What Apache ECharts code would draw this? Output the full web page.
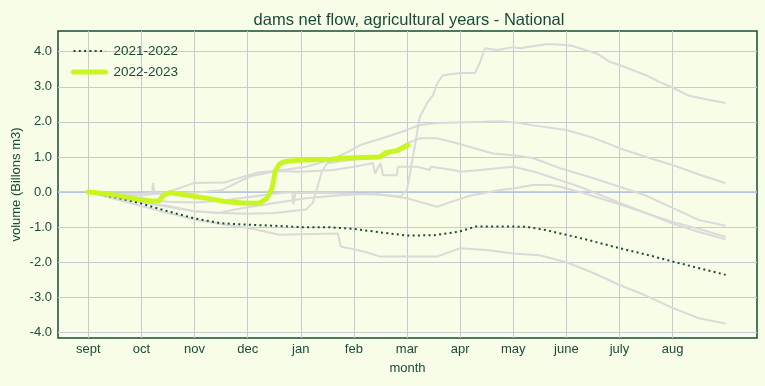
<!DOCTYPE html>
<html>
<head>
<meta charset="utf-8">
<script src="https://cdn.jsdelivr.net/npm/echarts@6/dist/echarts.min.js"></script>
<style>
html,body{margin:0;padding:0;background:#f7fde6;}
#chart{width:765px;height:386px;}
</style>
</head>
<body>
<div id="chart"></div>
<script>
// x unit: months since start of September (tick k = month k)
const monthLabels = ['sept','oct','nov','dec','jan','feb','mar','apr','may','june','july','aug'];
const monthTicks = [0,1,2,3,4,5,6,7,8,9,10,11];
const yTicks = [-4,-3,-2,-1,0,1,2,3,4];

const year2122 = [[0,0],[0.5,-0.15],[1,-0.33],[1.5,-0.55],[2,-0.75],[2.5,-0.89],[3,-0.93],[3.5,-0.96],[4,-1.0],[4.5,-1.0],[5,-1.05],[5.5,-1.15],[6,-1.24],[6.5,-1.23],[6.8,-1.17],[7,-1.12],[7.3,-0.98],[7.75,-0.98],[8.25,-0.99],[8.6,-1.08],[9,-1.22],[9.5,-1.4],[10,-1.6],[10.5,-1.78],[11,-1.98],[11.5,-2.17],[12,-2.36]];

const year2223 = [[0,0],[0.41,-0.06],[0.84,-0.18],[1.22,-0.26],[1.33,-0.25],[1.41,-0.1],[1.54,-0.02],[1.86,-0.09],[2.24,-0.18],[2.61,-0.28],[2.99,-0.32],[3.23,-0.31],[3.36,-0.18],[3.46,0.1],[3.52,0.6],[3.6,0.8],[3.7,0.87],[3.99,0.91],[4.55,0.93],[4.74,0.96],[5.49,1.0],[5.6,1.12],[5.81,1.18],[6.02,1.34]];

const otherA = [[0,0],[0.5,-0.1],[1,-0.2],[1.5,-0.28],[2,-0.3],[2.5,-0.25],[3,-0.15],[3.5,-0.05],[3.84,0.0],[3.86,-0.35],[3.9,-0.02],[4.5,-0.03],[5,-0.05],[5.5,-0.08],[5.87,-0.13],[6,0.06],[6.11,0.99],[6.24,2.14],[6.38,2.54],[6.49,2.76],[6.57,3.1],[6.68,3.33],[7,3.39],[7.28,3.39],[7.37,3.68],[7.47,4.1],[7.7,4.05],[8,4.13],[8.13,4.1],[8.64,4.22],[9,4.19],[9.12,4.16],[9.57,3.95],[9.82,3.71],[10,3.62],[10.5,3.33],[10.75,3.14],[11,2.98],[11.28,2.76],[11.65,2.64],[12,2.54]];
const otherB = [[0,0],[0.5,-0.08],[1,-0.1],[1.5,0.0],[2,0.26],[2.57,0.27],[2.7,0.34],[2.95,0.45],[3.2,0.56],[3.67,0.63],[4.1,0.72],[4.55,0.91],[4.9,1.15],[5.12,1.34],[5.55,1.54],[6,1.77],[6.24,1.91],[6.57,1.97],[7.43,2.0],[7.75,2.02],[8.13,1.97],[8.37,1.9],[9,1.77],[9.5,1.55],[10,1.25],[10.5,1.0],[11,0.77],[11.5,0.5],[12,0.25]];
const otherC = [[0,0],[0.5,-0.15],[1,-0.3],[1.5,-0.42],[2,-0.55],[2.5,-0.6],[3,-0.62],[3.5,-0.6],[4.1,-0.5],[4.23,-0.3],[4.4,0.6],[4.5,0.82],[4.93,0.91],[5.55,1.0],[5.8,1.2],[6,1.39],[6.24,1.53],[6.57,1.53],[6.94,1.39],[7.62,1.1],[8,1.05],[8.37,0.97],[8.88,0.68],[9.5,0.4],[10,0.15],[10.5,-0.1],[11,-0.45],[11.5,-0.8],[12,-0.96]];
const otherD = [[0,0],[0.5,-0.05],[1,-0.05],[1.2,-0.02],[1.22,0.26],[1.25,-0.05],[2,-0.02],[2.5,0.05],[3.05,0.45],[3.55,0.6],[3.99,0.58],[4.61,0.63],[5,0.72],[5.36,0.82],[5.4,0.53],[5.5,0.82],[5.55,0.48],[5.81,0.48],[5.83,0.72],[6.19,0.72],[6.43,0.63],[6.45,0.72],[6.87,0.63],[7,0.58],[7.37,0.63],[8,0.72],[8.4,0.58],[8.88,0.34],[9.25,0.15],[10,-0.3],[11,-0.9],[11.5,-1.14],[12,-1.35]];
const otherE = [[0,0],[0.5,-0.12],[1,-0.28],[1.5,-0.4],[2,-0.55],[2.45,-0.6],[2.86,-0.47],[3.48,-0.32],[4.1,-0.18],[4.74,-0.09],[5.36,-0.04],[6,-0.18],[6.57,-0.42],[6.83,-0.28],[7.2,-0.1],[7.75,0.06],[8,0.1],[8.37,0.2],[8.7,0.2],[8.88,0.15],[9.25,0.0],[10,-0.35],[11,-0.85],[11.5,-1.05],[12,-1.28]];
const otherF = [[0,0],[0.5,-0.2],[1,-0.4],[1.5,-0.6],[2,-0.78],[2.5,-0.92],[3,-1.02],[3.6,-1.22],[4,-1.2],[4.7,-1.18],[4.75,-1.55],[5.2,-1.7],[5.5,-1.84],[6,-1.84],[6.57,-1.84],[7,-1.6],[7.5,-1.65],[8,-1.75],[8.5,-1.8],[9,-2.0],[9.5,-2.3],[10,-2.65],[10.5,-2.95],[11,-3.3],[11.5,-3.6],[12,-3.75]];
const otherYears = [otherA, otherB, otherC, otherD, otherE, otherF];

const dark = '#1b4a3c';
const lime = '#c9f522';
const font = 'Liberation Sans, Arial, sans-serif';

const chart = echarts.init(document.getElementById('chart'), null, {renderer:'canvas'});

const greySeries = otherYears.map((d, i) => ({
  name: 'other' + i,
  type: 'line',
  data: d,
  symbol: 'none',
  silent: true,
  lineStyle: {color: '#dadada', width: 2},
  z: 2
}));

chart.setOption({
  animation: false,
  backgroundColor: '#f7fde6',
  title: {
    text: 'dams net flow, agricultural years - National',
    left: 404, top: 7, textAlign: 'center',
    textStyle: {fontFamily: font, fontSize: 16.5, fontWeight: 'normal', color: dark}
  },
  legend: {
    data: [
      {name: '2021-2022', lineStyle: {color: dark, width: 2, type: [2, 3.3]}},
      {name: '2022-2023', lineStyle: {color: lime, width: 5, cap: 'round'}}
    ],
    orient: 'vertical',
    left: 66, top: 39,
    itemWidth: 32, itemHeight: 14, itemGap: 7,
    itemStyle: {color: 'rgba(0,0,0,0)', borderWidth: 0, opacity: 0},
    textStyle: {fontFamily: font, fontSize: 13.5, color: dark, padding: [0,0,0,3]}
  },
  grid: {
    left: 58, right: 8, top: 31, bottom: 48,
    containLabel: false, outerBoundsMode: 'none',
    show: true, borderColor: dark, borderWidth: 1.5, backgroundColor: '#f7fde6'
  },
  xAxis: {
    type: 'value', min: -0.571, max: 12.59,
    name: 'month', nameLocation: 'middle', nameGap: 24, nameMoveOverlap: false,
    nameTextStyle: {fontFamily: font, fontSize: 13, color: dark},
    axisLine: {show: false},
    axisTick: {show: false, customValues: monthTicks},
    axisLabel: {customValues: monthTicks, margin: 5, fontFamily: font, fontSize: 13, color: dark,
      formatter: v => monthLabels[Math.round(v)] || ''},
    splitLine: {show: true, lineStyle: {color: '#c9c9cf', width: 1}}
  },
  yAxis: {
    type: 'value', min: -4.16, max: 4.59,
    name: 'volume (Billons m3)', nameLocation: 'middle', nameGap: 35, nameMoveOverlap: false,
    nameTextStyle: {fontFamily: font, fontSize: 13, color: dark},
    axisLine: {show: false},
    axisTick: {show: false, customValues: yTicks},
    axisLabel: {customValues: yTicks, margin: 6, fontFamily: font, fontSize: 13, color: dark,
      formatter: v => v.toFixed(1)},
    splitLine: {show: true, lineStyle: {color: '#c9c9cf', width: 1}}
  },
  series: [
    ...greySeries,
    {
      name: '2021-2022', type: 'line', data: year2122, symbol: 'none', z: 4,
      lineStyle: {color: dark, width: 2, type: [2, 3.3]},
      itemStyle: {color: dark},
      markLine: {
        silent: true, symbol: 'none', label: {show: false},
        lineStyle: {color: '#b0c4de', width: 1.5, type: 'solid'},
        data: [{yAxis: 0}], z: 1
      }
    },
    {
      name: '2022-2023', type: 'line', data: year2223, symbol: 'none', z: 5,
      lineStyle: {color: lime, width: 5, cap: 'round', join: 'round'},
      itemStyle: {color: lime}
    }
  ]
});
</script>
</body>
</html>
